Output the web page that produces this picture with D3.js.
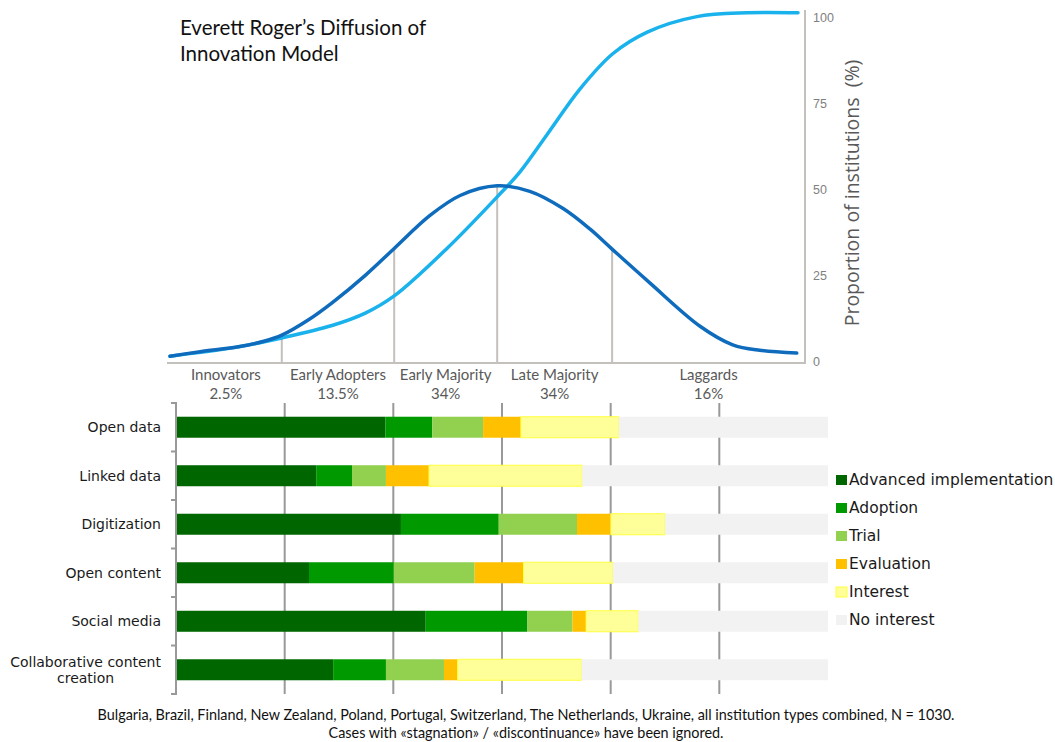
<!DOCTYPE html>
<html><head><meta charset="utf-8">
<script src="https://cdn.jsdelivr.net/npm/d3@7"></script>
<style>body{margin:0;background:#fff;} svg{display:block}</style>
</head><body><svg id="c" width="1055" height="742"></svg>
<script>
// ---------- Data ----------
const titleLines = ["Everett Roger\u2019s Diffusion of", "Innovation Model"];
const yAxisTitle = "Proportion of institutions\u00a0\u00a0(%)";
const yTicks = [0, 25, 50, 75, 100];

// Bell curve (adopters per phase): relative position (0-100) vs %
const bellX = [0, 4.8, 11.1, 15.1, 17.8, 22.0, 25.8, 31.1, 35.7, 41.4, 46.2, 52.1, 57.3, 62.6, 66.9, 70.4, 76.4, 84.4, 89.6, 93.9, 99.8];
const bellY = [1.7, 3.0, 4.5, 6.1, 7.8, 12.2, 17.2, 25.2, 33.0, 42.6, 48.4, 51.2, 49.6, 44.6, 38.6, 32.8, 23.0, 10.4, 5.0, 3.4, 2.6];
// S-curve (cumulative share)
const sX = [0, 9.9, 17.8, 25.8, 31.1, 35.7, 44.1, 52.1, 55.7, 60.0, 65.3, 70.5, 76.0, 83.9, 91.9, 100];
const sY = [1.7, 4.1, 7.0, 10.6, 14.2, 19.2, 33.0, 48.0, 55.2, 66.0, 79.4, 89.6, 95.9, 100.4, 101.5, 101.5];

// Phase boundaries and labels
const dividerX = [17.8, 35.7, 52.1, 70.4];
const dividerTop = [7.8, 33.0, 51.0, 32.8];
const phaseNames = ["Innovators", "Early Adopters", "Early Majority", "Late Majority", "Laggards"];
const phaseShares = ["2.5%", "13.5%", "34%", "34%", "16%"];

// Stacked bars
const categories = ["Open data", "Linked data", "Digitization", "Open content", "Social media", "Collaborative content\ncreation"];
const seriesNames = ["Advanced implementation", "Adoption", "Trial", "Evaluation", "Interest", "No interest"];
const advanced   = [32.1, 21.5, 34.5, 20.4, 38.3, 24.1];
const adoption   = [7.2, 5.5, 15.0, 13.0, 15.6, 8.1];
const trial      = [7.8, 5.2, 12.0, 12.4, 6.9, 8.9];
const evaluation = [5.8, 6.6, 5.2, 7.5, 2.1, 2.1];
const interest   = [15.0, 23.5, 8.3, 13.7, 8.0, 19.0];
const noInterest = [32.1, 37.7, 25.0, 33.0, 29.1, 37.8];
const gridTicks = [16.67, 33.33, 50, 66.67, 83.33];

const footerLines = [
  "Bulgaria, Brazil, Finland, New Zealand, Poland, Portugal, Switzerland, The Netherlands, Ukraine, all institution types combined, N = 1030.",
  "Cases with \u00abstagnation\u00bb / \u00abdiscontinuance\u00bb have been ignored."
];

// ---------- Styles ----------
const seriesColors = ["#006600", "#009900", "#92d050", "#ffc000", "#ffff99", "#f2f2f2"];
const seriesStroke = [null, null, null, null, "#ffff40", null];
const svg = d3.select("#c");

// ---------- Curve chart ----------
const cx = d3.scaleLinear().domain([0, 100]).range([170, 798]);
const cy = d3.scaleLinear().domain([0, 100]).range([362, 18]);
const axisGray = "#c4c0bc";

// baseline
svg.append("line").attr("x1", 167).attr("x2", 806).attr("y1", cy(0) + 1).attr("y2", cy(0) + 1)
  .attr("stroke", axisGray).attr("stroke-width", 2);
// right axis
svg.append("line").attr("x1", 805).attr("x2", 805).attr("y1", 10).attr("y2", cy(0) + 2)
  .attr("stroke", axisGray).attr("stroke-width", 2);

// dividers
svg.append("g").selectAll("line").data(dividerX).join("line")
  .attr("x1", d => cx(d)).attr("x2", d => cx(d))
  .attr("y1", cy(0)).attr("y2", (d, i) => cy(dividerTop[i]))
  .attr("stroke", axisGray).attr("stroke-width", 2);

// y tick labels
svg.append("g").selectAll("text").data(yTicks).join("text")
  .attr("x", 813).attr("y", d => cy(d)).attr("dy", "0.35em")
  .attr("font-family", "Liberation Sans, Arial, sans-serif").attr("font-size", 12.5)
  .attr("fill", "#7f7f7f").text(d => d);

// y title
svg.append("text")
  .attr("transform", `translate(859,${(cy(0) + cy(100)) / 2 + 3}) rotate(-90)`)
  .attr("text-anchor", "middle")
  .attr("font-family", "Open Sans, sans-serif").attr("font-size", 19.5)
  .attr("fill", "#595959").text(yAxisTitle);

const lineGen = d3.line().x(d => cx(d[0])).y(d => cy(d[1])).curve(d3.curveCatmullRom.alpha(0.5));
svg.append("path").datum(sX.map((x, i) => [x, sY[i]]))
  .attr("d", lineGen).attr("fill", "none").attr("stroke", "#1ab2ec").attr("stroke-width", 3.5)
  .attr("stroke-linecap", "round");
svg.append("path").datum(bellX.map((x, i) => [x, bellY[i]]))
  .attr("d", lineGen).attr("fill", "none").attr("stroke", "#0f6cbd").attr("stroke-width", 3.5)
  .attr("stroke-linecap", "round");

// phase labels
const bounds = [0].concat(dividerX).concat([cx.invert(805)]);
const pl = svg.append("g").attr("font-family", "Lato, sans-serif").attr("font-size", 15)
  .attr("fill", "#595959").attr("text-anchor", "middle");
phaseNames.forEach((n, i) => {
  const mx = cx((bounds[i] + bounds[i + 1]) / 2);
  pl.append("text").attr("x", mx).attr("y", 380).text(n);
  pl.append("text").attr("x", mx).attr("y", 399).text(phaseShares[i]);
});

// title
svg.append("g").selectAll("text").data(titleLines).join("text")
  .attr("x", 180).attr("y", (d, i) => 35 + i * 26)
  .attr("font-family", "Lato, sans-serif").attr("font-size", 20.5).attr("fill", "#111")
  .text(d => d);

// ---------- Bar chart ----------
const bx = d3.scaleLinear().domain([0, 100]).range([176, 828]);
const by = d3.scaleBand().domain(categories).range([403, 694]).paddingInner(0.567).paddingOuter(0.283);

// gridlines
svg.append("g").selectAll("line").data(gridTicks).join("line")
  .attr("x1", d => bx(d)).attr("x2", d => bx(d)).attr("y1", 403).attr("y2", 694)
  .attr("stroke", "#999").attr("stroke-width", 2);

const seriesData = [advanced, adoption, trial, evaluation, interest, noInterest];
const rows = categories.map((c, i) => {
  const o = { cat: c };
  seriesNames.forEach((s, k) => o[s] = seriesData[k][i]);
  return o;
});
const stacked = d3.stack().keys(seriesNames)(rows);
svg.append("g").selectAll("g").data(stacked).join("g")
  .attr("fill", (d, k) => seriesColors[k])
  .each(function (layer, k) {
    d3.select(this).selectAll("rect").data(layer).join("rect")
      .attr("x", d => bx(d[0])).attr("width", d => bx(d[1]) - bx(d[0]))
      .attr("y", d => by(d.data.cat)).attr("height", by.bandwidth())
      .attr("stroke", seriesStroke[k] || "none").attr("stroke-width", seriesStroke[k] ? 1 : 0);
  });

// left axis
const ax = svg.append("g");
ax.append("line").attr("x1", 176).attr("x2", 176).attr("y1", 403).attr("y2", 694)
  .attr("stroke", "#999").attr("stroke-width", 2);
const tickYs = categories.map(c => by(c) - by.step() * by.paddingInner() / 2).concat([694]);
ax.selectAll("line.t").data(tickYs).join("line").attr("class", "t")
  .attr("x1", 171).attr("x2", 177).attr("y1", d => d).attr("y2", d => d)
  .attr("stroke", "#999").attr("stroke-width", 2);

// category labels
const cl = svg.append("g").attr("font-family", "DejaVu Sans, sans-serif").attr("font-size", 14).attr("fill", "#1a1a1a");
categories.forEach(c => {
  const lines = c.split("\n");
  const yc = by(c) + by.bandwidth() / 2;
  if (lines.length === 1) {
    cl.append("text").attr("x", 161).attr("y", yc).attr("dy", "0.35em").attr("text-anchor", "end").text(c);
  } else {
    const g = cl.append("g");
    const ts = lines.map((l, j) => g.append("text").attr("y", yc + (j - (lines.length - 1) / 2) * 16).attr("dy", "0.35em").text(l));
    const w = d3.max(ts, t => t.node().getComputedTextLength());
    ts.forEach(t => t.attr("x", 161 - w / 2).attr("text-anchor", "middle"));
  }
});

// legend
const lg = svg.append("g").attr("font-family", "DejaVu Sans, sans-serif").attr("font-size", 15.5).attr("fill", "#1a1a1a");
seriesNames.forEach((s, k) => {
  const y = 480 + k * 28;
  lg.append("rect").attr("x", 836).attr("y", y - 5).attr("width", 11).attr("height", 10)
    .attr("fill", seriesColors[k]).attr("stroke", seriesStroke[k] || "none");
  lg.append("text").attr("x", 849).attr("y", y).attr("dy", "0.35em").text(s);
});

// footer
svg.append("g").selectAll("text").data(footerLines).join("text")
  .attr("x", 526).attr("y", (d, i) => 720 + i * 18).attr("text-anchor", "middle")
  .attr("font-family", "Lato, sans-serif").attr("font-size", 14.4).attr("fill", "#111")
  .text(d => d);
</script></body></html>
